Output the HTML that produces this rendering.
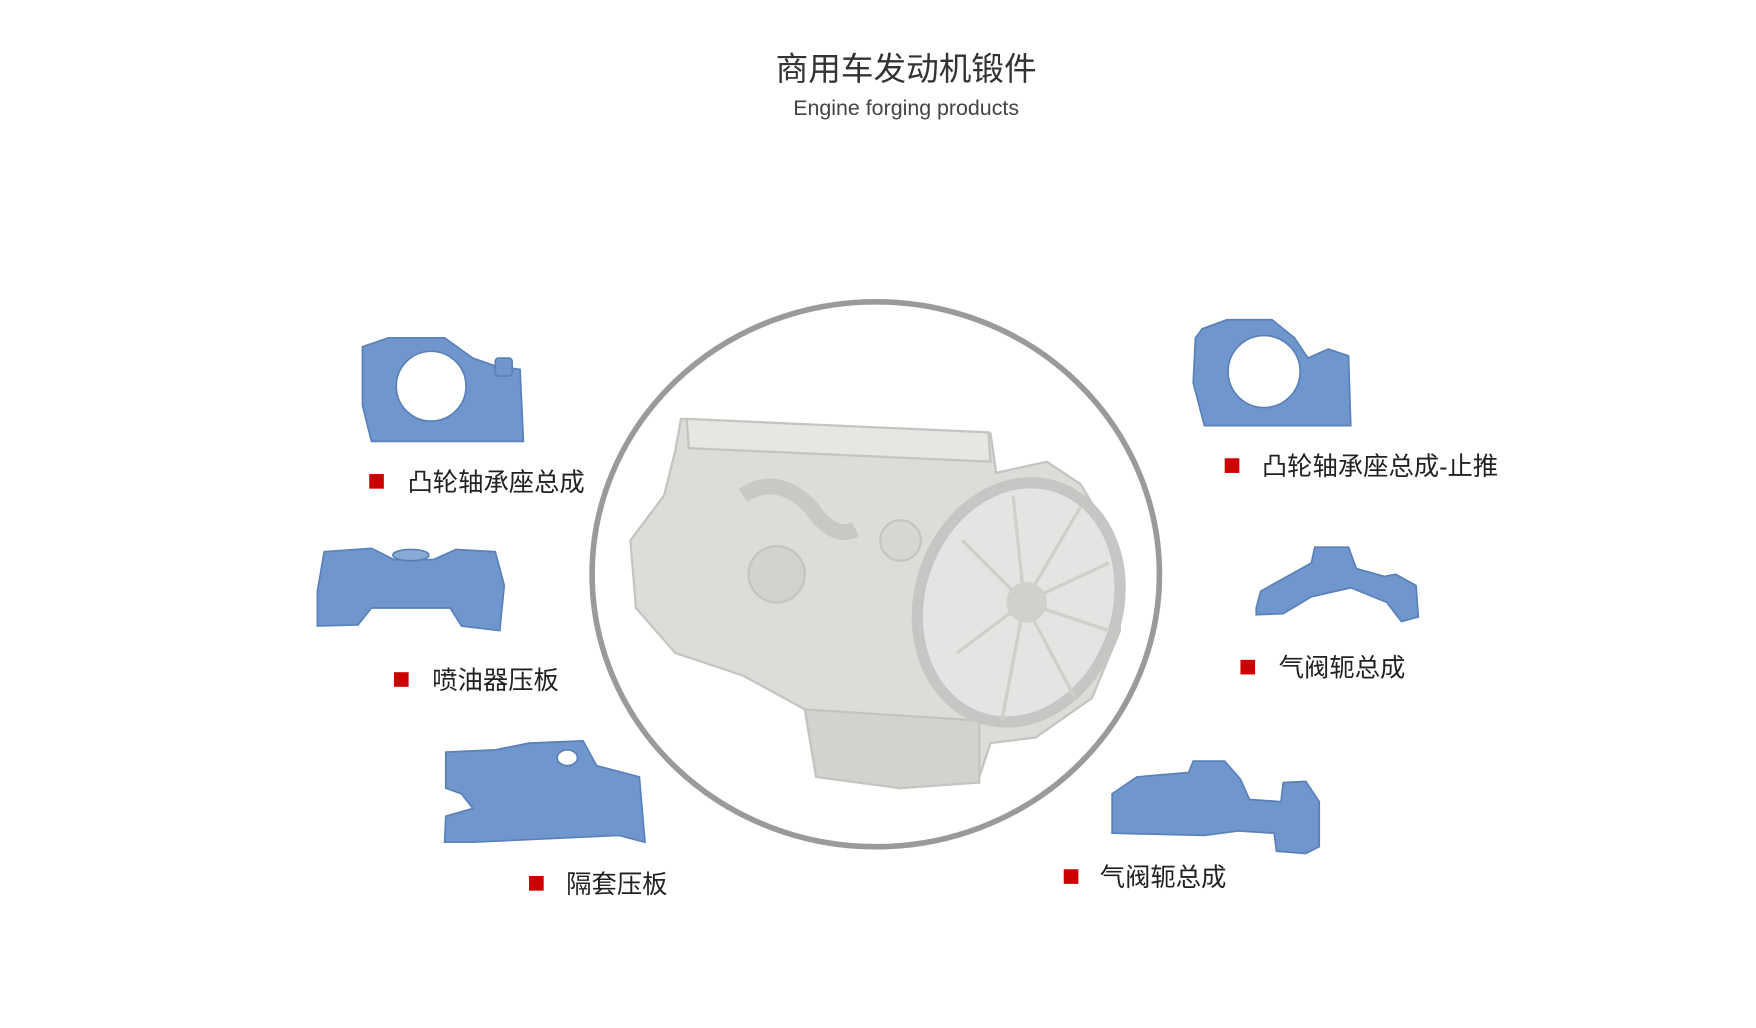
<!DOCTYPE html>
<html><head><meta charset="utf-8"><style>
html,body{margin:0;padding:0;background:#fff;}
svg{display:block}
text{font-family:"Liberation Sans","Noto Sans CJK SC",sans-serif;}
</style></head><body>
<svg width="1756" height="1028" viewBox="0 0 1560 913" preserveAspectRatio="none" xmlns="http://www.w3.org/2000/svg">
<rect width="1560" height="913" fill="#fff"/>
<text x="805" y="71" font-size="29" text-anchor="middle" fill="#333">商用车发动机锻件</text>
<text x="805" y="102" font-size="19" text-anchor="middle" fill="#444">Engine forging products</text>

<ellipse cx="778" cy="510" rx="252" ry="242" fill="none" stroke="#9a9a9a" stroke-width="5"/>

<!-- engine -->
<g fill="#dcdcd8" stroke="#c4c4c0" stroke-width="2">
<path d="M605 372 L880 385 L885 420 L930 410 L960 430 L990 480 L995 560 L970 620 L920 655 L880 660 L870 690 L800 700 L725 690 L715 630 L660 600 L600 580 L565 540 L560 480 L590 440 L600 400 Z"/>
<path d="M610 372 L878 384 L880 410 L612 398 Z" fill="#e6e6e2"/>
<path d="M660 440 Q690 420 720 450 Q740 480 760 470" fill="none" stroke="#c8c8c4" stroke-width="14"/>
<circle cx="690" cy="510" r="25" fill="#d2d2ce"/>
<circle cx="800" cy="480" r="18" fill="#d6d6d2"/>
<path d="M715 630 L870 640 L870 695 L800 700 L725 690 Z" fill="#d2d2ce"/>
</g>
<ellipse cx="905" cy="535" rx="88" ry="108" fill="#e4e4e2" stroke="#c6c6c4" stroke-width="10" transform="rotate(18 905 535)"/>
<g stroke="#cfcfcc" stroke-width="3" fill="none">
<path d="M910 535 L960 450 M910 535 L985 500 M910 535 L985 560 M910 535 L955 620 M910 535 L890 640 M910 535 L850 580 M910 535 L855 480 M910 535 L900 440"/>
</g>
<circle cx="912" cy="535" r="18" fill="#d0d0cc"/>

<!-- blue parts -->
<g fill="#6f96cd" stroke="#5a80b8" stroke-width="1.5">
<path d="M322 308 L345 300 L395 300 L420 318 L440 325 L462 328 L465 392 L330 392 L322 360 Z"/>
<circle cx="383" cy="343" r="31" fill="#fff"/>
<rect x="440" y="318" width="15" height="16" rx="3"/>
<path d="M288 490 L330 487 L350 497 L385 497 L405 488 L440 490 L448 520 L444 560 L410 556 L400 540 L330 540 L318 555 L282 556 L282 525 Z"/>
<ellipse cx="365" cy="493" rx="16" ry="5" fill="#8aaad6"/>
<path d="M396 668 L440 666 L470 660 L518 658 L530 680 L568 690 L573 748 L550 742 L420 748 L395 748 L396 725 L420 718 L410 705 L396 700 Z"/>
<ellipse cx="504" cy="673" rx="9" ry="7" fill="#fff"/>
<path d="M1068 292 L1090 284 L1130 284 L1150 300 L1162 318 L1180 310 L1198 316 L1200 378 L1070 378 L1060 340 L1062 300 Z"/>
<circle cx="1123" cy="330" r="32" fill="#fff"/>
<path d="M1116 540 L1120 525 L1165 500 L1168 486 L1198 486 L1205 505 L1230 512 L1240 510 L1258 520 L1260 548 L1245 552 L1232 535 L1200 522 L1165 530 L1140 545 L1116 546 Z"/>
<path d="M988 705 L1010 690 L1056 686 L1060 676 L1088 676 L1102 692 L1110 710 L1138 712 L1140 695 L1160 694 L1172 712 L1172 752 L1160 758 L1134 756 L1132 740 L1100 738 L1070 742 L988 740 Z"/>
</g>

<!-- labels -->
<g fill="#c00">
<rect x="328" y="421" width="13" height="13"/>
<rect x="350" y="597" width="13" height="13"/>
<rect x="470" y="778" width="13" height="13"/>
<rect x="1088" y="407" width="13" height="13"/>
<rect x="1102" y="586" width="13" height="13"/>
<rect x="945" y="772" width="13" height="13"/>
</g>
<g font-size="22.5" fill="#222">
<text x="362" y="436">凸轮轴承座总成</text>
<text x="384" y="612">喷油器压板</text>
<text x="503" y="793">隔套压板</text>
<text x="1121" y="422">凸轮轴承座总成-止推</text>
<text x="1136" y="601">气阀轭总成</text>
<text x="977" y="787">气阀轭总成</text>
</g>
</svg>
</body></html>
